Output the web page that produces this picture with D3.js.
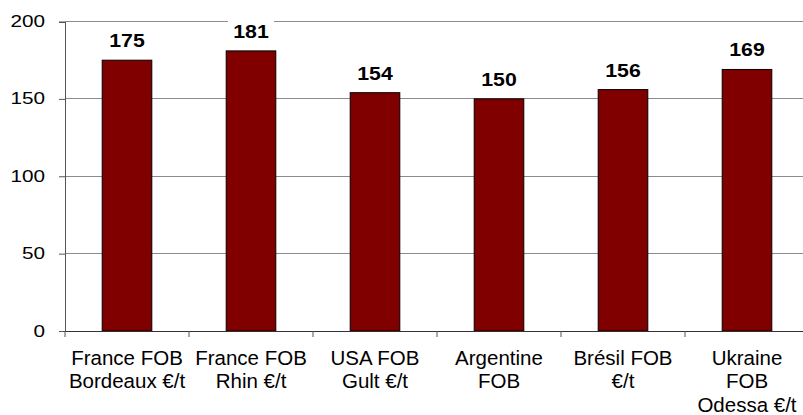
<!DOCTYPE html>
<html>
<head>
<meta charset="utf-8">
<script src="https://cdn.jsdelivr.net/npm/d3@7"></script>
<style>
  body { margin: 0; background: #fff; }
  text { font-family: "Liberation Sans", Arial, sans-serif; fill: #000; }
</style>
</head>
<body>
<div id="canvas"></div>
<script>
const categories = [
  ["France FOB", "Bordeaux €/t"],
  ["France FOB", "Rhin €/t"],
  ["USA FOB", "Gult €/t"],
  ["Argentine", "FOB"],
  ["Brésil FOB", "€/t"],
  ["Ukraine", "FOB", "Odessa €/t"]
];
const values = [175, 181, 154, 150, 156, 169];
const yTicks = [0, 50, 100, 150, 200];

const width = 803;
const height = 415;
const margin = { top: 21.5, left: 65, bottom: 84, right: -6 };
const iwidth = width - margin.left - margin.right;
const iheight = height - margin.top - margin.bottom;

const data = categories.map((c, i) => ({ key: i, lines: c, value: values[i] }));

const svg = d3.select("#canvas").append("svg")
  .attr("width", width)
  .attr("height", height);

const g = svg.append("g").attr("transform", `translate(${margin.left},${margin.top})`);

const y = d3.scaleLinear().domain([0, 200]).range([iheight, 0]);
const x = d3.scaleBand()
  .domain(data.map(d => d.key))
  .range([0, iwidth])
  .paddingInner(0.6)
  .paddingOuter(0.3);

// gridlines
g.append("g")
  .selectAll("line")
  .data(yTicks.filter(t => t > 0))
  .enter().append("line")
  .attr("x1", 0)
  .attr("x2", iwidth)
  .attr("y1", d => y(d))
  .attr("y2", d => y(d))
  .attr("stroke", "#8c8c8c")
  .attr("stroke-width", 1)
  .attr("shape-rendering", "crispEdges");

// y axis
const yAxis = g.append("g")
  .call(d3.axisLeft(y).tickValues(yTicks).tickSize(6).tickPadding(14));
yAxis.select(".domain").attr("stroke", "#555").attr("shape-rendering", "crispEdges");
yAxis.selectAll(".tick line").attr("stroke", "#555");
yAxis.selectAll(".tick text")
  .attr("font-size", 17)
  .attr("font-family", "Liberation Sans, Arial, sans-serif")
  .attr("dy", "0.3em")
  .attr("transform", "scale(1.22,1)")
  .attr("x", -20 / 1.22)
  .style("text-anchor", "end");

// bars
g.selectAll("rect.bar")
  .data(data)
  .enter().append("rect")
  .attr("class", "bar")
  .attr("x", d => x(d.key))
  .attr("y", d => y(d.value))
  .attr("width", x.bandwidth())
  .attr("height", d => iheight - y(d.value))
  .attr("fill", "#800000")
  .attr("stroke", "#000")
  .attr("stroke-width", 1);

// x axis with boundary ticks
const xAxis = g.append("g").attr("transform", `translate(0,${iheight})`);
xAxis.append("line")
  .attr("x1", 0).attr("x2", iwidth)
  .attr("stroke", "#333")
  .attr("shape-rendering", "crispEdges");
xAxis.selectAll("line.sep")
  .data(data)
  .enter().append("line")
  .attr("class", "sep")
  .attr("x1", d => x(d.key) - x.step() * x.paddingOuter())
  .attr("x2", d => x(d.key) - x.step() * x.paddingOuter())
  .attr("y1", 0).attr("y2", 6)
  .attr("stroke", "#555");

const labels = xAxis.selectAll("text.cat")
  .data(data)
  .enter().append("text")
  .attr("class", "cat")
  .attr("text-anchor", "middle")
  .attr("font-size", 20.5)
  .attr("y", 33.5);
labels.selectAll("tspan")
  .data(d => d.lines.map(l => ({ l, cx: x(d.key) + x.bandwidth() / 2 })))
  .enter().append("tspan")
  .attr("x", d => d.cx)
  .attr("dy", (d, i) => i === 0 ? 0 : 23.5)
  .text(d => d.l);

// value labels with white backing
const vl = g.selectAll("g.vl")
  .data(data)
  .enter().append("g")
  .attr("class", "vl")
  .attr("transform", d => `translate(${x(d.key) + x.bandwidth() / 2},${y(d.value) - 13})`);
vl.append("rect")
  .attr("x", -23).attr("y", -18)
  .attr("width", 46).attr("height", 22)
  .attr("fill", "#fff");
vl.append("text")
  .attr("text-anchor", "middle")
  .attr("font-size", 19)
  .attr("font-weight", "bold")
  .attr("transform", "scale(1.12,1)")
  .text(d => d.value);
</script>
</body>
</html>
